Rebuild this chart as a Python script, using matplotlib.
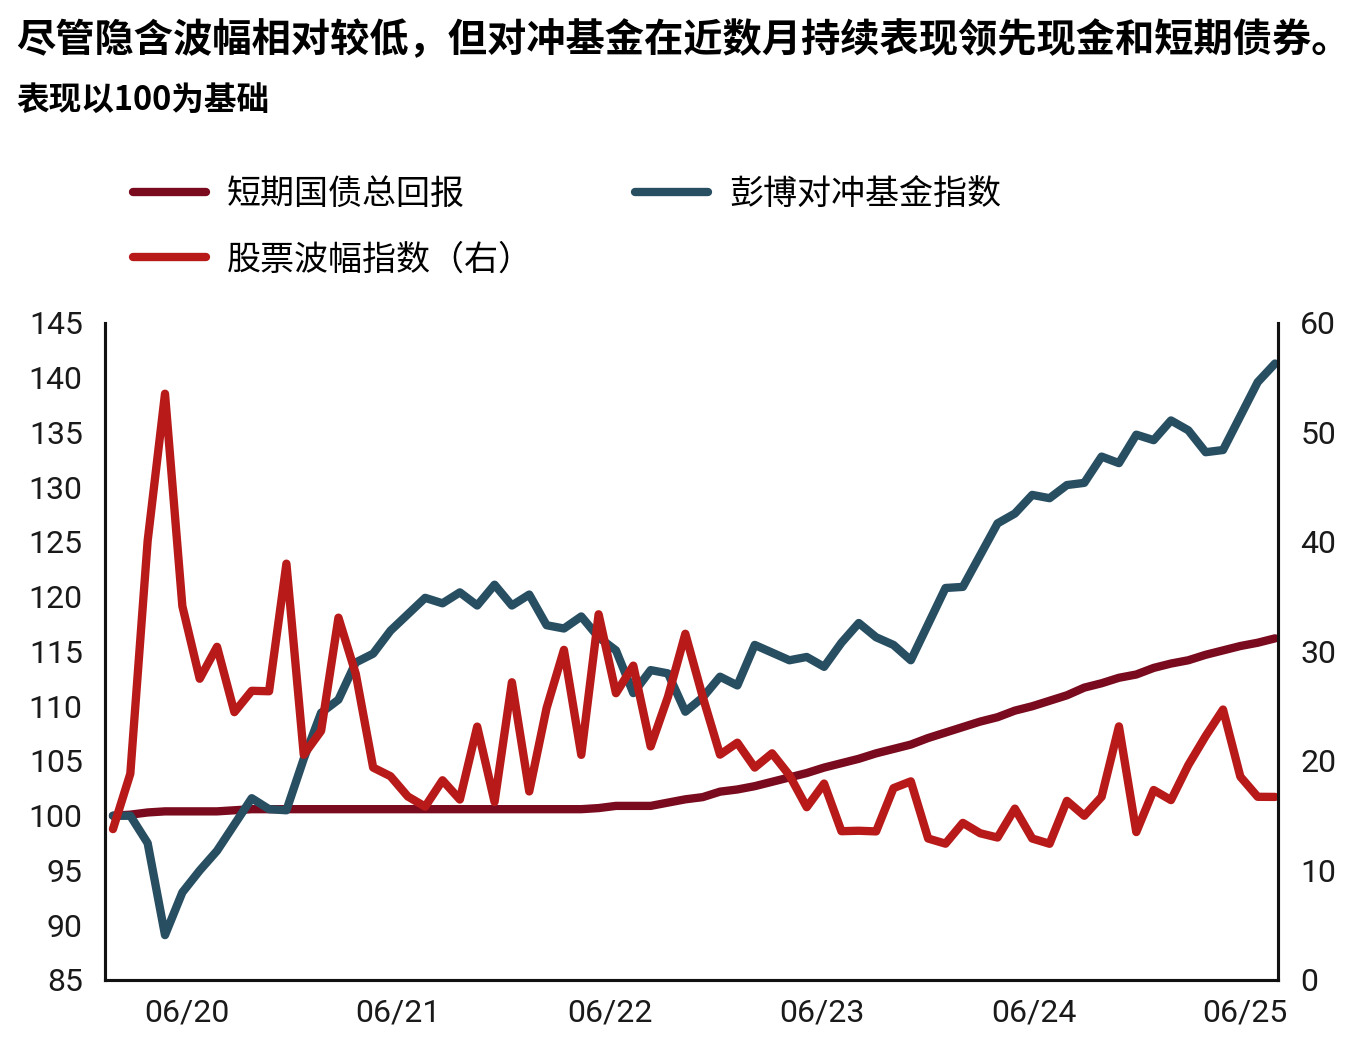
import numpy as np
import matplotlib
matplotlib.use('Agg')
import matplotlib.pyplot as plt
from matplotlib.lines import Line2D

plt.rcParams['font.family'] = ['Roboto', 'Noto Sans CJK SC', 'DejaVu Sans']

# Monthly data, 12/2019 - 07/2025
treasury = [100.0, 100.1, 100.3, 100.4, 100.4, 100.4, 100.4, 100.5, 100.6, 100.6,
            100.6, 100.6, 100.6, 100.6, 100.6, 100.6, 100.6, 100.6, 100.6, 100.6,
            100.6, 100.6, 100.6, 100.6, 100.6, 100.6, 100.6, 100.6, 100.7, 100.9,
            100.9, 100.9, 101.2, 101.5, 101.7, 102.2, 102.4, 102.7, 103.1, 103.5,
            103.9, 104.4, 104.8, 105.2, 105.7, 106.1, 106.5, 107.1, 107.6, 108.1,
            108.6, 109.0, 109.6, 110.0, 110.5, 111.0, 111.7, 112.1, 112.6, 112.9,
            113.5, 113.9, 114.2, 114.7, 115.1, 115.5, 115.8, 116.2]

hedge = [100.0, 100.0, 97.5, 89.1, 93.0, 95.0, 96.8, 99.2, 101.6, 100.6,
         100.5, 105.2, 109.4, 110.6, 114.0, 114.8, 116.9, 118.4, 119.9, 119.4,
         120.4, 119.2, 121.1, 119.2, 120.2, 117.4, 117.1, 118.2, 116.3, 115.1,
         111.2, 113.3, 113.0, 109.5, 110.8, 112.7, 111.9, 115.6, 114.9, 114.2,
         114.5, 113.6, 115.8, 117.6, 116.3, 115.6, 114.2, 117.5, 120.8, 120.9,
         123.8, 126.7, 127.6, 129.3, 129.0, 130.2, 130.4, 132.8, 132.2, 134.8,
         134.3, 136.1, 135.2, 133.2, 133.4, 136.5, 139.6, 141.3]

vix = [13.78, 18.84, 40.11, 53.54, 34.15, 27.51, 30.43, 24.46, 26.41, 26.37,
       38.02, 20.57, 22.75, 33.09, 27.95, 19.40, 18.61, 16.76, 15.83, 18.24,
       16.48, 23.14, 16.26, 27.19, 17.22, 24.83, 30.15, 20.56, 33.40, 26.19,
       28.71, 21.33, 25.87, 31.62, 25.88, 20.58, 21.67, 19.40, 20.70, 18.70,
       15.78, 17.94, 13.59, 13.63, 13.57, 17.52, 18.14, 12.92, 12.45, 14.35,
       13.40, 13.01, 15.65, 12.92, 12.44, 16.36, 15.00, 16.73, 23.16, 13.51,
       17.35, 16.43, 19.63, 22.28, 24.70, 18.57, 16.73, 16.72]

tick_labels = ['06/20', '06/21', '06/22', '06/23', '06/24', '06/25']
tick_pos = [4.27, 16.44, 28.66, 40.89, 53.11, 65.28]

c_treasury = '#7A0A1E'
c_hedge = '#284E62'
c_vix = '#B81A1A'

x = np.arange(len(hedge))

fig = plt.figure(figsize=(13.6, 10.59), dpi=100)
ax = fig.add_axes([0.0772, 0.0746, 0.8625, 0.6204])
ax2 = ax.twinx()

ax.plot(x, treasury, color=c_treasury, lw=6, solid_capstyle='round', solid_joinstyle='round')
ax.plot(x, hedge, color=c_hedge, lw=6, solid_capstyle='round', solid_joinstyle='round')
ax2.plot(x, vix, color=c_vix, lw=6, solid_capstyle='round', solid_joinstyle='round')

ax.set_xlim(-0.46, 67.17)
ax.set_ylim(85, 145)
ax.set_yticks(range(85, 146, 5))
ax2.set_ylim(0, 60)
ax2.set_yticks(range(0, 61, 10))
ax.set_xticks(tick_pos)
ax.set_xticklabels(tick_labels)

for a in (ax, ax2):
    a.spines['top'].set_visible(False)
    for s in ('left', 'right', 'bottom'):
        a.spines[s].set_linewidth(2.2)
        a.spines[s].set_color('#111111')
    a.tick_params(length=0, labelsize=23, colors='#1a1a1a')
ax.tick_params(axis='y', pad=16)
ax2.tick_params(axis='y', pad=16)
ax.tick_params(axis='x', pad=13)

fig.text(0.012, 0.962, '尽管隐含波幅相对较低，但对冲基金在近数月持续表现领先现金和短期债券。',
         fontsize=28.3, fontweight='bold', family=['Noto Sans CJK SC'], va='center', ha='left')
fig.text(0.012, 0.905, '表现以100为基础', fontsize=23.5, fontweight='bold',
         family=['Noto Sans CJK SC'], va='center', ha='left')

handles = [Line2D([], [], color=c_treasury, lw=6, solid_capstyle='round'),
           Line2D([], [], color=c_vix, lw=6, solid_capstyle='round'),
           Line2D([], [], color=c_hedge, lw=6, solid_capstyle='round')]
labels = ['短期国债总回报', '股票波幅指数（右）', '彭博对冲基金指数']
fig.legend(handles, labels, ncol=2, loc='upper left', bbox_to_anchor=(0.075, 0.862),
           frameon=False, handlelength=2.15, handletextpad=0.62, columnspacing=3.0,
           labelspacing=0.9, prop={'family': ['Noto Sans CJK SC'], 'size': 24.5, 'weight': 'light'})

fig.savefig('out.png', dpi=100, facecolor='white')
